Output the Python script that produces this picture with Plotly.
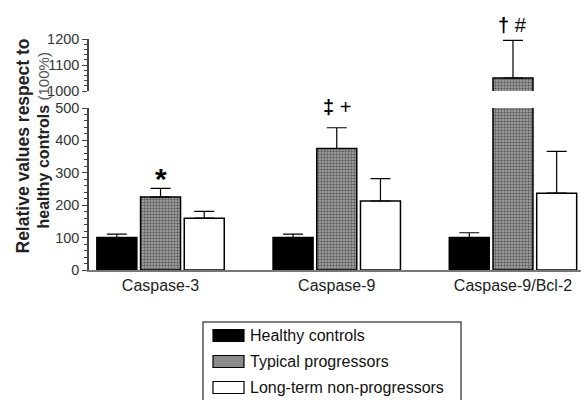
import plotly.graph_objects as go

# Data (relative values, % of healthy controls)
categories = ["Caspase-3", "Caspase-9", "Caspase-9/Bcl-2"]
healthy = [100, 100, 100]
healthy_err = [11, 11, 15]
typical = [225, 375, 1050]
typical_err = [27, 64, 145]
ltnp = [160, 213, 237]
ltnp_err = [21, 69, 129]

series_names = ["Healthy controls", "Typical progressors", "Long-term non-progressors"]
lower_ticks = [0, 100, 200, 300, 400, 500]
upper_ticks = [1000, 1100, 1200]

# Figure geometry (pixels)
W, H = 581, 400
L, R, T, B = 89, 0, 39, 130
PW, PH = W - L - R, H - T - B


def px_x(p):
    return (p - L) / PW


def px_y(p):
    return (H - B - p) / PH


FONT = "Liberation Sans, Arial, sans-serif"
pattern = dict(shape=".", fgcolor="#111111", bgcolor="#aaaaaa", size=3, solidity=0.5)

fig = go.Figure()

styles = [
    dict(color="black", pattern=None),
    dict(color="#9a9a9a", pattern=pattern),
    dict(color="white", pattern=None),
]
values = [healthy, typical, ltnp]
errors = [healthy_err, typical_err, ltnp_err]

# Every series is drawn on both segments of the broken axis
for axis_y, axis_x in (("y", "x"), ("y2", "x2")):
    for name, vals, errs, st in zip(series_names, values, errors, styles):
        marker = dict(color=st["color"], line=dict(color="black", width=1.5))
        if st["pattern"]:
            marker["pattern"] = st["pattern"]
        fig.add_trace(go.Bar(
            x=categories, y=vals, name=name, marker=marker,
            error_y=dict(type="data", array=errs, arrayminus=[0] * len(errs),
                         symmetric=False, color="black", thickness=1.2, width=10),
            xaxis=axis_x, yaxis=axis_y, showlegend=False,
        ))

tick_font = dict(family=FONT, size=14.5, color="#333333")
axis_common = dict(
    showline=True, linecolor="#444444", linewidth=1.5, ticks="outside",
    ticklen=5, tickwidth=1.3, tickcolor="#444444", showgrid=False, zeroline=False,
    tickfont=tick_font,
    minor=dict(dtick=20, ticks="outside", ticklen=3, tickwidth=1, tickcolor="#444444"),
)

xrange = [-0.406, 2.386]

fig.update_layout(
    width=W, height=H,
    margin=dict(l=L, r=R, t=T, b=B),
    paper_bgcolor="white", plot_bgcolor="white",
    barmode="group", bargap=0.256, bargroupgap=0.085,
    showlegend=False,
    xaxis=dict(domain=[0, 1], anchor="y", range=xrange, showline=True,
               linecolor="#777777", linewidth=1.5, ticks="", showgrid=False,
               tickfont=dict(family=FONT, size=16, color="#222222")),
    xaxis2=dict(domain=[0, 1], anchor="y2", matches="x", range=xrange,
                visible=False),
    yaxis=dict(domain=[0, px_y(108)], anchor="x", range=[0, 500],
               tickvals=lower_ticks, **axis_common),
    yaxis2=dict(domain=[px_y(91), 1], anchor="x2", range=[1000, 1200],
                tickvals=upper_ticks, **axis_common),
)

# Significance marks (vertical position given in pixels from the top)
sig = [
    dict(x=categories[0], py=178, text="<b>*</b>", size=30),
    dict(x=categories[1], py=107, text="<b>‡</b> +", size=20),
    dict(x=categories[2], py=25, text="<b>†</b> #", size=20),
]
for s in sig:
    fig.add_annotation(x=s["x"], y=px_y(s["py"]), xref="x", yref="paper", text=s["text"],
                       showarrow=False, xanchor="center", yanchor="middle",
                       font=dict(family=FONT, size=s["size"], color="black"))

# Y-axis title, one annotation per line
title_lines = [
    dict(px=22.5, py=146, size=17.5, text="<b>Relative values respect to</b>"),
    dict(px=42.5, py=141, size=16,
         text="<b>healthy controls</b> <span style='font-size:15px;color:#555555'>(100%)</span>"),
]
for tl in title_lines:
    fig.add_annotation(
        x=px_x(tl["px"]), y=px_y(tl["py"]), xref="paper", yref="paper", textangle=-90,
        showarrow=False, xanchor="center", yanchor="middle", text=tl["text"],
        font=dict(family=FONT, size=tl["size"], color="#222222"),
    )

# Legend drawn below the chart
fig.add_shape(type="rect", xref="paper", yref="paper",
              x0=px_x(203), x1=px_x(461), y0=px_y(403), y1=px_y(322),
              line=dict(color="#555555", width=1.5), fillcolor="rgba(0,0,0,0)")
legend_rows = [335.5, 361.5, 387.5]
legend_fill = ["black", "#8a8a8a", "white"]
for name, yc, fill in zip(series_names, legend_rows, legend_fill):
    fig.add_shape(type="rect", xref="paper", yref="paper",
                  x0=px_x(213), x1=px_x(244), y0=px_y(yc + 6), y1=px_y(yc - 6),
                  line=dict(color="black", width=1.2), fillcolor=fill)
    fig.add_annotation(x=px_x(248), y=px_y(yc), xref="paper", yref="paper",
                       text=name, showarrow=False, xanchor="left", yanchor="middle",
                       font=dict(family=FONT, size=16, color="#111111"))

fig.write_html("out.html")
